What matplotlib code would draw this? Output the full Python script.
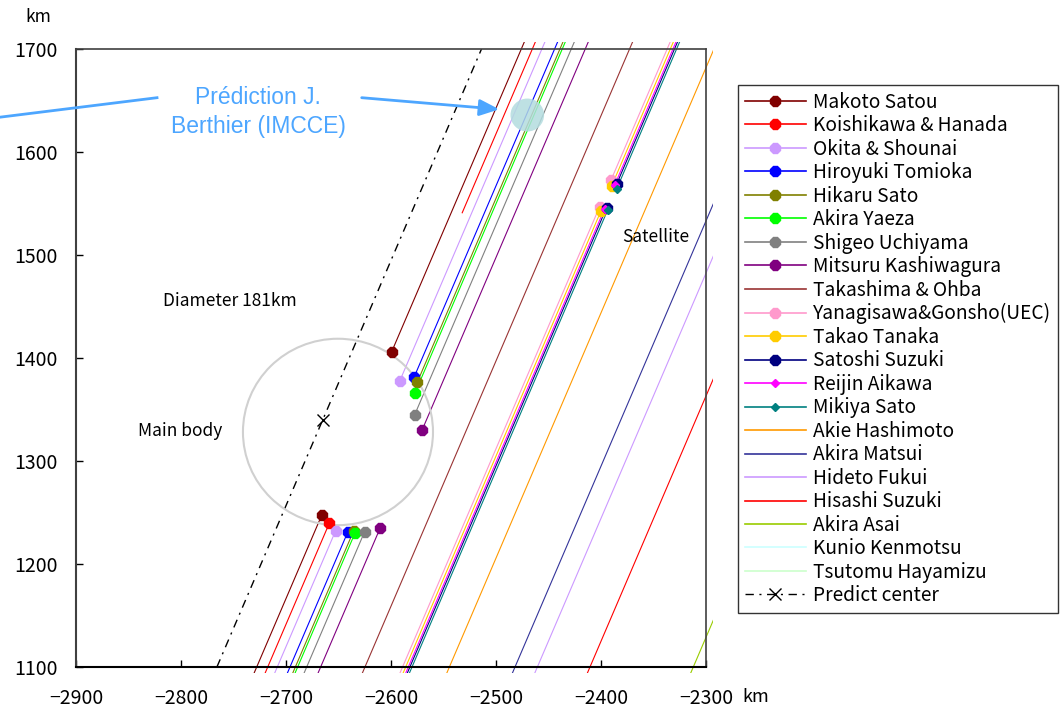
import numpy as np
import matplotlib
matplotlib.use("Agg")
import matplotlib.pyplot as plt
from matplotlib.patches import Circle, Rectangle
from matplotlib.lines import Line2D

plt.rcParams['font.family'] = ['Noto Sans CJK JP', 'DejaVu Sans']

nan = np.nan

# observers, in legend order
names = ["Makoto Satou", "Koishikawa & Hanada", "Okita & Shounai", "Hiroyuki Tomioka",
         "Hikaru Sato", "Akira Yaeza", "Shigeo Uchiyama", "Mitsuru Kashiwagura",
         "Takashima & Ohba", "Yanagisawa&Gonsho(UEC)", "Takao Tanaka", "Satoshi Suzuki",
         "Reijin Aikawa", "Mikiya Sato", "Akie Hashimoto", "Akira Matsui", "Hideto Fukui",
         "Hisashi Suzuki", "Akira Asai", "Kunio Kenmotsu", "Tsutomu Hayamizu"]
colors = ["#800000", "#ff0000", "#cc99ff", "#0000ff", "#808000", "#00ff00", "#808080",
          "#800080", "#993333", "#ff99cc", "#ffcc00", "#000080", "#ff00ff", "#008080",
          "#ff9900", "#333399", "#cc99ff", "#ff0000", "#99cc00", "#ccffff", "#ccffcc"]
markers = ["8", "8", "8", "8", "8", "8", "8", "8", None, "8", "8", "8", "D", "D",
           None, None, None, None, None, None, None]

# chord position: x (km) where each chord crosses y = 1100 km
chord_x0 = [-2727.9, -2717.4, -2708.3, -2696.2, -2691.1, -2688.9, -2680.3, -2667.0,
            -2624.8, -2589.0, -2586.0, -2582.0, -2583.5, -2580.0, -2544.4, -2481.9,
            -2460.6, -2410.5, -2312.1, -2230.0, -2200.0]

# main body events (y km): disappearance / reappearance
body_in = [1247.6, 1239.5, 1232.3, 1231.4, 1232.3, 1230.4, 1231.4, 1235.3] + [nan] * 13
body_out = [1406.1, 1541.0, 1378.0, 1381.3, 1376.4, 1365.7, 1344.7, 1330.0] + [nan] * 13
no_out_marker = ["Koishikawa & Hanada"]

# satellite events (y km)
sat_in = [nan] * 9 + [1547.0, 1543.0, 1546.0, 1545.0, 1544.0] + [nan] * 7
sat_out = [nan] * 9 + [1573.0, 1567.0, 1569.0, 1568.0, 1564.0] + [nan] * 7

SLOPE = 0.42  # km in x per km in y along the shadow track
Y0 = 1100.0

pred_center = (-2665.0, 1340.0)
body_center = (-2650.5, 1328.2)
body_radius = 90.5
berthier_center = (-2470.2, 1635.9)
berthier_radius = 16.0


def chord_x(x0, y):
    return x0 + SLOPE * (np.asarray(y) - Y0)


fig = plt.figure(figsize=(10.63, 7.07), dpi=100)
ax = fig.add_axes([76 / 1063, 1 - 667 / 707, 630 / 1063, 618 / 707])
ax.set_xlim(-2900, -2300)
ax.set_ylim(1100, 1700)

# chords are drawn a bit past the frame, as in the original
clip = Rectangle((-2910, 1094.4), 616.7, 612.4, transform=ax.transData, fill=False, visible=False)
ax.add_patch(clip)

handles = []
for i, name in enumerate(names):
    c = colors[i]
    ys = [1085.0]
    for a, b in [(body_in[i], body_out[i]), (sat_in[i], sat_out[i])]:
        if not np.isnan(a):
            ys += [a, b]
    ys.append(1715.0)
    for k in range(0, len(ys), 2):
        seg = np.array([ys[k], ys[k + 1]])
        ln, = ax.plot(chord_x(chord_x0[i], seg), seg, color=c, lw=0.8)
        ln.set_clip_path(clip)
    mk = markers[i]
    ms = 4.5 if mk == "D" else 7.5
    if mk is not None:
        ev = [v for v in [body_in[i], sat_in[i], sat_out[i]] if not np.isnan(v)]
        if not np.isnan(body_out[i]) and name not in no_out_marker:
            ev.append(body_out[i])
        ev = np.array(ev)
        ax.plot(chord_x(chord_x0[i], ev), ev, ls="none", marker=mk, ms=ms,
                color=c, mec=c, zorder=4)
    handles.append(Line2D([], [], color=c, lw=1.2, marker=mk, ms=ms, mec=c))

# predicted centre line
dash = (0, (6, 4, 1.5, 4))
py = np.array([Y0, pred_center[1], 1700.0])
px = pred_center[0] + SLOPE * (py - pred_center[1])
ax.plot(px, py, color="black", lw=1.0, ls=dash)
ax.plot([pred_center[0]], [pred_center[1]], ls="none", marker="x", ms=9, mew=1.0, color="black")
handles.append(Line2D([], [], color="black", lw=1.0, ls=dash, marker="x", ms=8, mew=1.0))

# main body outline and Berthier prediction
ax.add_patch(Circle(body_center, body_radius, fill=False, ec="#d0d0d0", lw=1.5, zorder=3))
ax.add_patch(Circle(berthier_center, berthier_radius, fc="#b3dcdf", ec="none", alpha=0.85, zorder=5))

ax.text(-2817, 1455, "Diameter 181km", fontsize=12.5, va="center")
ax.text(-2841, 1329, "Main body", fontsize=12.5, va="center")
ax.text(-2380, 1517.5, "Satellite", fontsize=12.5, va="center")

ax.set_xticks(np.arange(-2900, -2299, 100))
ax.set_yticks(np.arange(1100, 1701, 100))
ax.tick_params(direction="in", length=5, width=1, labelsize=14)
ax.tick_params(axis="x", pad=15)
ax.tick_params(axis="y", pad=13)
for s in ["top", "right", "left"]:
    ax.spines[s].set_color("#404040")
ax.spines["top"].set_linewidth(1.2)
ax.spines["right"].set_linewidth(1.2)
ax.spines["left"].set_linewidth(1.5)
ax.spines["bottom"].set_linewidth(1.5)
ax.spines["bottom"].set_color("black")

fig.text(38 / 1063, 1 - 17 / 707, "km", fontsize=12.5, ha="center", va="center")
fig.text(742 / 1063, 1 - 697 / 707, "km", fontsize=13, ha="left", va="center")

# annotation
blue = "#4da6ff"
fig.text(258 / 1063, 1 - 112 / 707, "Prédiction J.\nBerthier (IMCCE)", color=blue,
         fontsize=16.5, family="Liberation Sans", ha="center", va="center", linespacing=1.3)
fig.add_artist(Line2D([157 / 1063, -0.01], [1 - 97.7 / 707, 1 - 118.5 / 707],
                      transform=fig.transFigure, color=blue, lw=2))
ax.annotate("", xy=(499.3 / 1063, 1 - 109.3 / 707), xytext=(361.7 / 1063, 1 - 97.7 / 707),
            xycoords="figure fraction", textcoords="figure fraction",
            arrowprops=dict(arrowstyle="-|>,head_length=1.2,head_width=0.5", color=blue,
                            lw=2, shrinkA=0, shrinkB=0))

leg = fig.legend(handles, names + ["Predict center"], loc="upper left",
                 bbox_to_anchor=(738 / 1063, 1 - 85 / 707), fontsize=13.8, frameon=True,
                 fancybox=False, edgecolor="black", borderaxespad=0, handlelength=3.2,
                 handletextpad=0.36, labelspacing=0.13, borderpad=0.35)
leg.get_frame().set_linewidth(1.0)

fig.savefig("out.png", dpi=100)
